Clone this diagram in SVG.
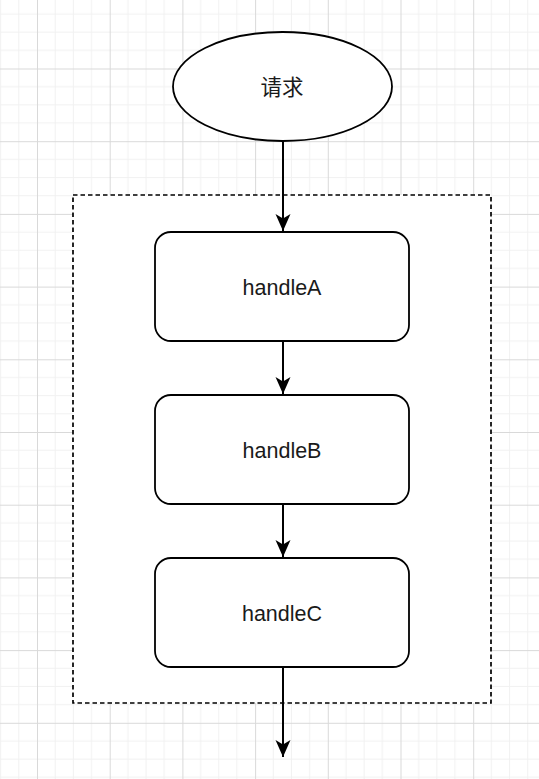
<svg xmlns="http://www.w3.org/2000/svg" width="539" height="779" viewBox="0 0 539 779">
  <style>
    .node { fill: #ffffff; stroke: #000000; stroke-width: 1.8; }
    .lbl { font-family: "Liberation Sans", Arial, sans-serif; font-size: 21.5px; fill: #1a1a1a; text-anchor: middle; }
    .cjk { font-family: "Liberation Sans", "Noto Sans CJK SC", sans-serif; }
    .edge { fill: none; stroke: #000000; stroke-width: 2; }
    .group { fill: #ffffff; stroke: #000000; stroke-width: 1.7; stroke-dasharray: 4.5 3; }
  </style>
  <defs>
    <pattern id="grid" patternUnits="userSpaceOnUse" x="37" y="68.5" width="72.7" height="72.7">
      <path d="M18.17 0V72.7M36.35 0V72.7M54.52 0V72.7M0 18.17H72.7M0 36.35H72.7M0 54.52H72.7" fill="none" stroke="#f1f1f1" stroke-width="1"/>
      <path d="M0.5 0V72.7M0 0.5H72.7" fill="none" stroke="#d9d9d9" stroke-width="1"/>
    </pattern>
    <marker id="arrow" markerUnits="userSpaceOnUse" markerWidth="20" markerHeight="20" viewBox="0 0 20 20" refX="17" refY="10" orient="auto">
      <path d="M17 10L0 2.5L4.5 10L0 17.5Z" fill="#000000"/>
    </marker>
  </defs>
  <rect width="539" height="779" fill="#ffffff"/>
  <rect width="539" height="779" fill="url(#grid)"/>

  <g id="container">
    <rect class="group" x="73" y="195" width="418" height="508"/>
  </g>

  <g id="connectors">
    <path class="edge" d="M283 141V231" marker-end="url(#arrow)"/>
    <path class="edge" d="M283 341V394" marker-end="url(#arrow)"/>
    <path class="edge" d="M283 504V557" marker-end="url(#arrow)"/>
    <path class="edge" d="M283 667V757" marker-end="url(#arrow)"/>
  </g>

  <g id="request">
    <ellipse class="node" cx="282.5" cy="86.5" rx="109.5" ry="54.5"/>
    <text class="lbl cjk" x="282" y="94.5">请求</text>
  </g>

  <g id="handleA">
    <rect class="node" x="155" y="232" width="254" height="109" rx="16"/>
    <text class="lbl" x="282" y="295">handleA</text>
  </g>

  <g id="handleB">
    <rect class="node" x="155" y="395" width="254" height="109" rx="16"/>
    <text class="lbl" x="282" y="458">handleB</text>
  </g>

  <g id="handleC">
    <rect class="node" x="155" y="558" width="254" height="109" rx="16"/>
    <text class="lbl" x="282" y="621">handleC</text>
  </g>
</svg>
